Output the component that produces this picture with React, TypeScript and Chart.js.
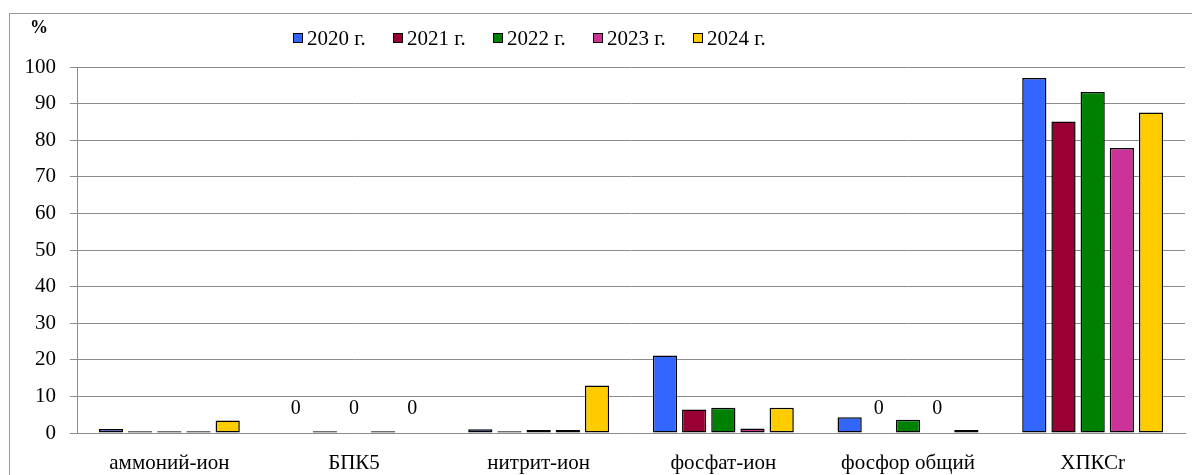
import React, { useEffect, useRef } from "react";
import { Chart, registerables } from "chart.js";

Chart.register(...registerables);

const categories = ["аммоний-ион", "БПК5", "нитрит-ион", "фосфат-ион", "фосфор общий", "ХПКСr"];
const seriesLabels = ["2020 г.", "2021 г.", "2022 г.", "2023 г.", "2024 г."];
const values2020 = [1.1, 0, 1.0, 21.2, 4.3, 97.0];
const values2021 = [0.5, 0.5, 0.5, 6.4, 0, 85.1];
const values2022 = [0.5, 0, 0.8, 6.9, 3.6, 93.2];
const values2023 = [0.5, 0.5, 0.8, 1.2, 0, 77.9];
const values2024 = [3.4, 0, 13.0, 6.9, 0.8, 87.6];
const seriesValues = [values2020, values2021, values2022, values2023, values2024];
const seriesColors = ["#3366ff", "#990033", "#008000", "#cc3399", "#ffcc00"];
const yTicks = [0, 10, 20, 30, 40, 50, 60, 70, 80, 90, 100];
const unitLabel = "%";

const FONT = "'Liberation Serif', 'Times New Roman', serif";
const GRID = "#8c8c8c";

const zeroLabelPlugin = {
  id: "zeroLabels",
  afterDatasetsDraw(chart: any) {
    const ctx = chart.ctx;
    const yScale = chart.scales.y;
    ctx.save();
    ctx.font = `20px ${FONT}`;
    ctx.fillStyle = "#000";
    ctx.textAlign = "center";
    ctx.textBaseline = "middle";
    chart.data.datasets.forEach((ds: any, di: number) => {
      const meta = chart.getDatasetMeta(di);
      meta.data.forEach((el: any, i: number) => {
        if (ds.data[i] === 0) {
          ctx.fillText("0", el.x, yScale.getPixelForValue(0) - 24);
        }
      });
    });
    ctx.restore();
  },
};

const legendPlugin = {
  id: "customLegend",
  afterDraw(chart: any) {
    const ctx = chart.ctx;
    ctx.save();
    ctx.font = `21px ${FONT}`;
    ctx.textBaseline = "middle";
    ctx.textAlign = "left";
    chart.data.datasets.forEach((ds: any, i: number) => {
      const x = 293 + i * 100;
      const y = 38;
      ctx.fillStyle = ds.backgroundColor;
      ctx.fillRect(x, y - 5, 10, 10);
      ctx.strokeStyle = "#000";
      ctx.lineWidth = 1;
      ctx.strokeRect(x + 0.5, y - 4.5, 9, 9);
      ctx.fillStyle = "#000";
      ctx.fillText(ds.label, x + 14, y + 1);
    });
    ctx.font = `bold 18px ${FONT}`;
    ctx.textAlign = "center";
    ctx.fillText(unitLabel, 39, 28);
    ctx.restore();
  },
};

export default function App() {
  const canvasRef = useRef<HTMLCanvasElement | null>(null);

  useEffect(() => {
    if (!canvasRef.current) return;
    const chart = new Chart(canvasRef.current, {
      type: "bar",
      data: {
        labels: categories,
        datasets: seriesLabels.map((label, i) => ({
          label,
          data: seriesValues[i],
          backgroundColor: seriesColors[i],
          borderColor: "#000",
          borderWidth: (c: any) => (c.raw === 0 ? 0 : 1.5),
          borderSkipped: false,
          categoryPercentage: 0.79,
          barPercentage: 0.83,
        })),
      },
      options: {
        animation: false,
        responsive: false,
        maintainAspectRatio: false,
        layout: { padding: { top: 67, right: 7, left: 0, bottom: 0 } },
        plugins: {
          legend: { display: false },
          tooltip: { enabled: false },
        },
        scales: {
          x: {
            grid: { display: false, drawTicks: false },
            border: { display: true, color: GRID, width: 1 },
            ticks: {
              color: "#000",
              font: { family: FONT, size: 21 },
              padding: 18,
              maxRotation: 0,
              autoSkip: false,
            },
            afterFit: (s: any) => {
              s.height = 42;
            },
          },
          y: {
            min: 0,
            max: 100,
            afterBuildTicks: (s: any) => {
              s.ticks = yTicks.map((v) => ({ value: v }));
            },
            grid: { color: GRID, lineWidth: 1, tickLength: 7, drawTicks: true },
            border: { display: true, color: GRID, width: 1 },
            ticks: {
              color: "#000",
              font: { family: FONT, size: 21 },
              padding: 14,
            },
            afterFit: (s: any) => {
              s.width = 77;
            },
          },
        },
      },
      plugins: [zeroLabelPlugin, legendPlugin],
    });
    return () => chart.destroy();
  }, []);

  return (
    <div style={{ position: "fixed", left: 0, top: 0, width: 1192, height: 475, background: "#fff", overflow: "hidden" }}>
      <div
        style={{
          position: "absolute",
          left: 9,
          top: 13,
          width: 1300,
          height: 600,
          border: "1px solid #9a9a9a",
        }}
      />
      <canvas ref={canvasRef} width={1192} height={475} style={{ position: "absolute", left: 0, top: 0 }} />
    </div>
  );
}
